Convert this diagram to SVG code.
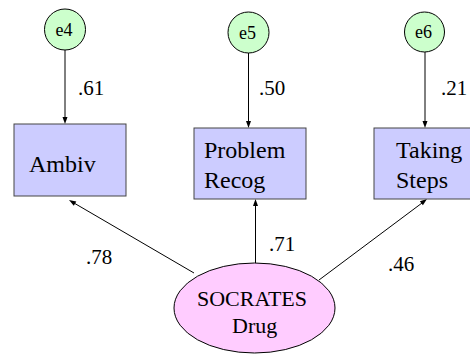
<svg xmlns="http://www.w3.org/2000/svg" width="470" height="355" viewBox="0 0 470 355">
<rect width="470" height="355" fill="#fff"/>
<g id="connectors" stroke="#000" stroke-width="1" fill="#000">
<line x1="65" y1="50" x2="65" y2="118"/>
<polygon stroke="none" points="65,124 62.5,117 67.5,117"/>
<line x1="248.5" y1="53" x2="248.5" y2="122"/>
<polygon stroke="none" points="248.5,128 246,121 251,121"/>
<line x1="425" y1="52" x2="425" y2="122"/>
<polygon stroke="none" points="425,128 422.5,121 427.5,121"/>
<line x1="194" y1="273" x2="74" y2="203"/>
<polygon stroke="none" points="69,200 76.3,201.4 73.8,205.7"/>
<line x1="255.5" y1="263" x2="255.5" y2="205"/>
<polygon stroke="none" points="255.5,199 253,206 258,206"/>
<line x1="319" y1="280" x2="422" y2="203"/>
<polygon stroke="none" points="427,199 422.9,205.2 419.9,201.2"/>
</g>
<text font-family="Liberation Serif" font-size="21" x="78" y="95">.61</text>
<text font-family="Liberation Serif" font-size="21" x="259" y="95">.50</text>
<text font-family="Liberation Serif" font-size="21" x="441" y="95">.21</text>
<text font-family="Liberation Serif" font-size="21" x="86" y="264">.78</text>
<text font-family="Liberation Serif" font-size="21" x="269" y="251">.71</text>
<text font-family="Liberation Serif" font-size="21" x="388" y="271">.46</text>
<g id="e4">
<circle cx="65" cy="29.5" r="20.5" fill="#ccffcc" stroke="#000"/>
<text font-family="Liberation Serif" font-size="18" x="55.5" y="35.5">e4</text>
</g>
<g id="e5">
<circle cx="248.5" cy="32.5" r="20.5" fill="#ccffcc" stroke="#000"/>
<text font-family="Liberation Serif" font-size="18" x="239" y="38.5">e5</text>
</g>
<g id="e6">
<circle cx="424.5" cy="32" r="20" fill="#ccffcc" stroke="#000"/>
<text font-family="Liberation Serif" font-size="18" x="415" y="38">e6</text>
</g>
<g id="ambiv">
<rect x="14" y="124" width="112" height="72" fill="#ccccff" stroke="#444"/>
<text font-family="Liberation Serif" font-size="24" x="29" y="172">Ambiv</text>
</g>
<g id="problem">
<rect x="194" y="128" width="112" height="71" fill="#ccccff" stroke="#444"/>
<text font-family="Liberation Serif" font-size="24" x="204" y="158">Problem</text>
<text font-family="Liberation Serif" font-size="24" x="204" y="188">Recog</text>
</g>
<g id="taking">
<rect x="374" y="128" width="112" height="71" fill="#ccccff" stroke="#444"/>
<text font-family="Liberation Serif" font-size="24" x="396" y="158">Taking</text>
<text font-family="Liberation Serif" font-size="24" x="396" y="188">Steps</text>
</g>
<g id="socrates">
<ellipse cx="254.5" cy="308" rx="80.5" ry="45" fill="#ffccff" stroke="#000"/>
<text font-family="Liberation Serif" font-size="22" x="197" y="306">SOCRATES</text>
<text font-family="Liberation Serif" font-size="22" x="232" y="333">Drug</text>
</g>
</svg>
